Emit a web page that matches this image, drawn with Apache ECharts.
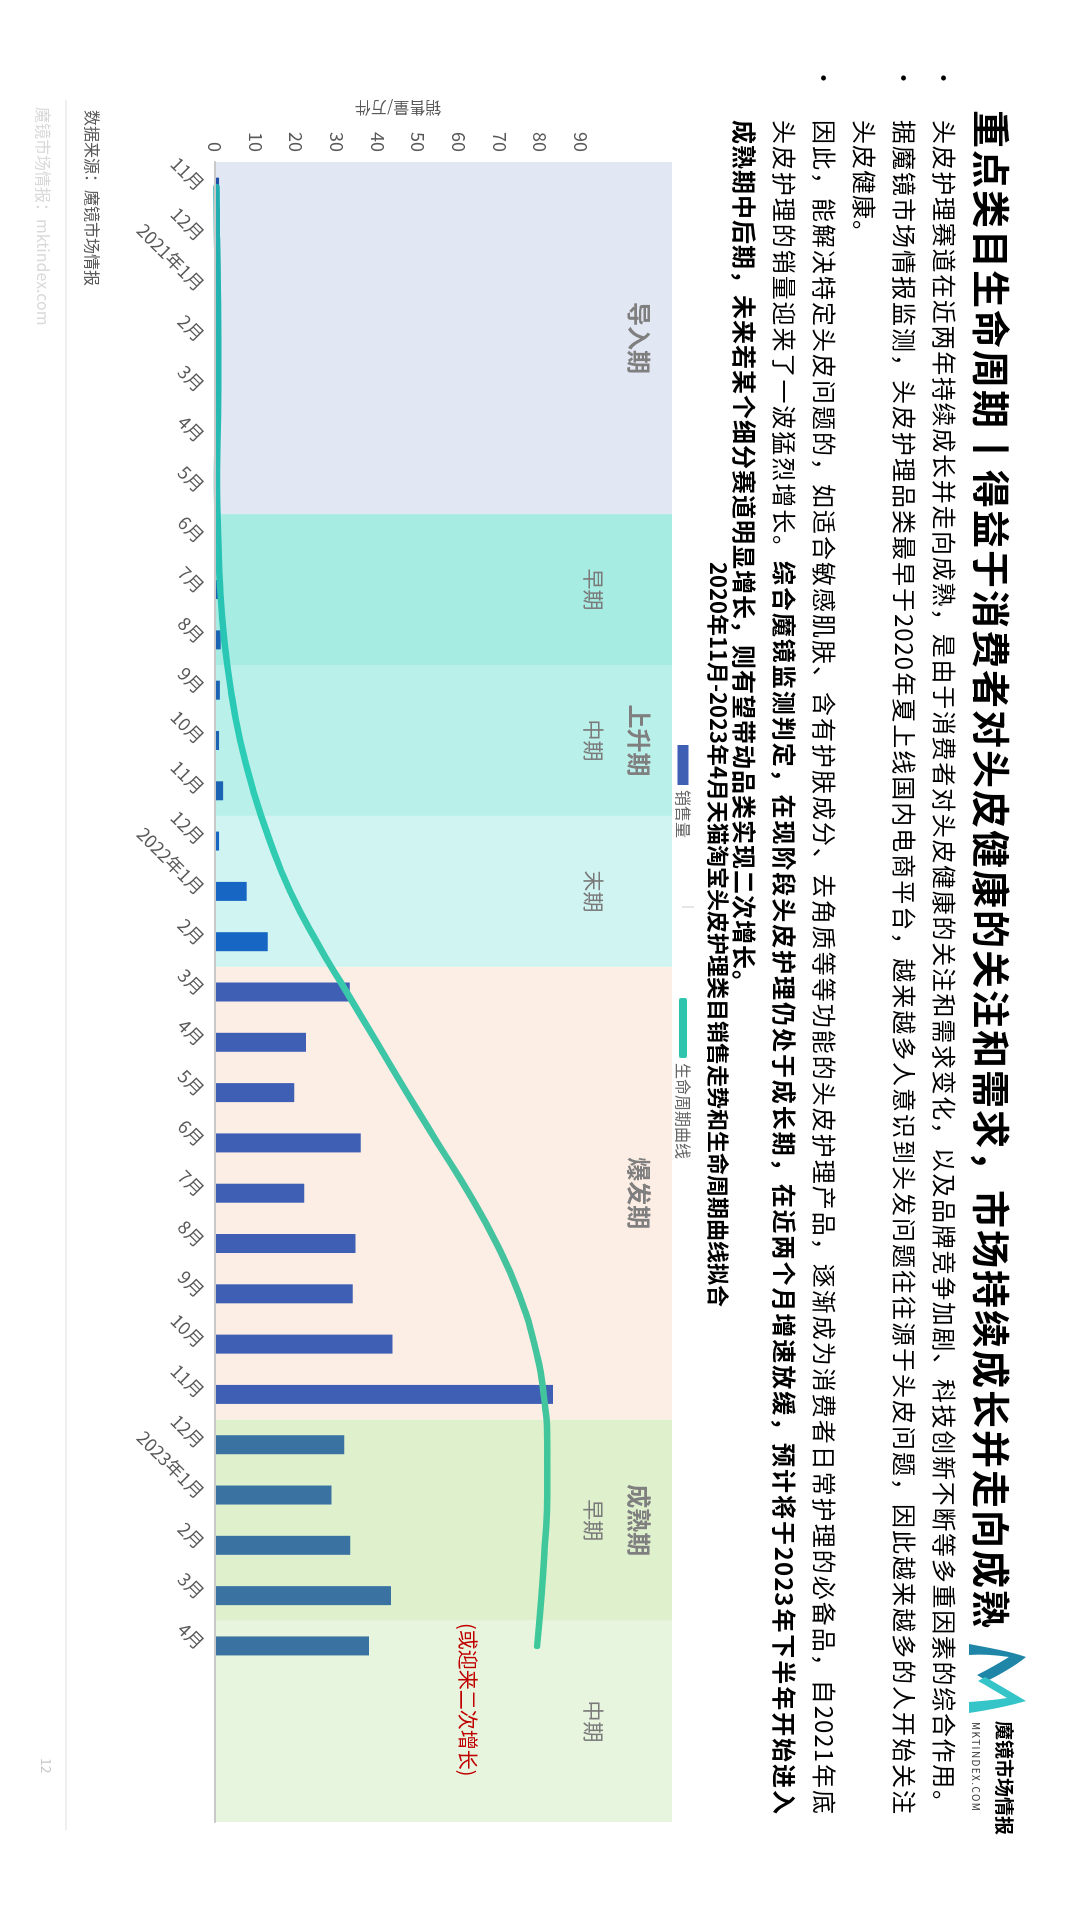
<!DOCTYPE html>
<html>
<head>
<meta charset="utf-8">
<script src="https://cdn.jsdelivr.net/npm/echarts@6/dist/echarts.min.js"></script>
<style>
html,body{margin:0;padding:0;width:1080px;height:1920px;overflow:hidden;background:#fff;}
#page{position:absolute;left:0;top:0;width:1920px;height:1080px;background:#fff;
  transform-origin:0 0;transform:translate(1080px,0) rotate(90deg);
  font-family:"Noto Sans CJK SC","Noto Sans",sans-serif;}
#chart{position:absolute;left:0;top:0;width:1920px;height:1080px;}
.txt{position:absolute;z-index:2;white-space:nowrap;color:#000;}
.title{left:110px;top:62px;font-size:38px;line-height:50px;font-weight:700;letter-spacing:2px;}
.line{left:120px;width:1695px;font-size:24px;line-height:40px;letter-spacing:1px;
  text-align:justify;text-align-last:justify;}
.last{text-align:left;text-align-last:left;}
.bul{left:66px;font-size:24px;line-height:40px;}
b{font-weight:700;}
.src{left:110px;top:976px;font-size:16px;line-height:22px;color:#595959;}
.wm{left:107px;top:1025px;font-size:16px;line-height:22px;color:#d9d9d9;}
.pg{left:1758px;top:1024px;font-size:14px;line-height:18px;color:#c8c8c8;}
.rule{position:absolute;left:100px;top:1013px;width:1730px;height:2px;background:#efefef;}
.logo{position:absolute;left:1642px;top:51px;width:73px;height:61px;}
.brand{left:1721px;top:62px;font-size:19px;line-height:26px;font-weight:700;letter-spacing:0px;}
.brand2{left:1722px;top:97px;font-size:10px;line-height:14px;letter-spacing:1.4px;color:#333;}
</style>
</head>
<body>
<div id="page">
  <div id="chart"></div>

  <div class="txt title">重点类目生命周期丨得益于消费者对头皮健康的关注和需求，市场持续成长并走向成熟</div>

  <div class="txt bul" style="top:115px">•</div>
  <div class="txt line" style="top:115px">头皮护理赛道在近两年持续成长并走向成熟，是由于消费者对头皮健康的关注和需求变化，以及品牌竞争加剧、科技创新不断等多重因素的综合作用。</div>

  <div class="txt bul" style="top:155px">•</div>
  <div class="txt line" style="top:155px">据魔镜市场情报监测，头皮护理品类最早于2020年夏上线国内电商平台，越来越多人意识到头发问题往往源于头皮问题，因此越来越多的人开始关注</div>
  <div class="txt line last" style="top:195px">头皮健康。</div>

  <div class="txt bul" style="top:235px">•</div>
  <div class="txt line" style="top:235px">因此，能解决特定头皮问题的，如适合敏感肌肤、含有护肤成分、去角质等等功能的头皮护理产品，逐渐成为消费者日常护理的必备品，自2021年底</div>
  <div class="txt line" style="top:275px">头皮护理的销量迎来了一波猛烈增长。<b>综合魔镜监测判定，在现阶段头皮护理仍处于成长期，在近两个月增速放缓，预计将于2023年下半年开始进入</b></div>
  <div class="txt line last" style="top:315px"><b>成熟期中后期，未来若某个细分赛道明显增长，则有望带动品类实现二次增长。</b></div>

  <svg class="logo" viewBox="0 0 73 61">
    <path d="M2 60 C6 40 9 20 15 3 C24 14 32 28 39 42 L33 52 C27 40 20 28 15 20 C13 34 12 47 13 60 Z" fill="#1f86a8"/>
    <path d="M35 44 C43 30 51 16 59 3 C64 20 68 40 71 60 L60 60 C59 47 58 34 56 22 C50 32 44 42 39 51 Z" fill="#35c5c9"/>
  </svg>
  <div class="txt brand">魔镜市场情报</div>
  <div class="txt brand2">MKTINDEX.COM</div>

  <div class="txt src">数据来源：魔镜市场情报</div>
  <div class="rule"></div>
  <div class="txt wm">魔镜市场情报：mktindex.com</div>
  <div class="txt pg">12</div>
</div>

<script>
// ---------- data ----------
const categories = ['11月','12月','2021年1月','2月','3月','4月','5月','6月','7月','8月','9月','10月','11月','12月',
  '2022年1月','2月','3月','4月','5月','6月','7月','8月','9月','10月','11月','12月','2023年1月','2月','3月','4月','','',''];
const sales = [1.0,0,0,0,0,0,0,0,1.0,1.4,1.2,1.0,2.0,1.0,7.8,13.0,33.2,22.4,19.5,35.9,22.0,34.6,33.9,43.7,83.2,31.8,28.7,33.3,43.3,37.9];
const lifecycle = [0.4,0.5,0.7,0.8,0.8,0.6,0.5,0.8,1.3,2.3,3.9,6.2,9.4,13.5,18.5,25.0,32.4,39.8,47.2,54.8,62.5,69.3,74.8,78.6,80.9,81.8,81.8,81.2,80.4,79.3];
const valueTicks = [0,10,20,30,40,50,60,70,80,90];
const stageNames = ['导入期','上升期','爆发期','成熟期'];
const stageStart = [0,7,16,25];
const stageEnd = [6,15,24,28];
const phaseNames = ['','早期','中期','末期','','早期','中期'];
const phaseStart = [0,7,10,13,16,25,29];
const phaseEnd = [6,9,12,15,24,28,32];
const seriesNames = ['销售量','生命周期曲线'];
const annotation = '(或迎来二次增长)';
const axisName = '销售量/万件';

// ---------- styles ----------
const FONT = '"Noto Sans CJK SC","Noto Sans",sans-serif';
const phaseColors = ['#e1e7f3','#a7ece2','#baf0ea','#d0f4f2','#fdeee5','#dff0cd','#e8f5de'];
const barColors = ['#1e4ea6','#1b64b4','#1b64b4','#1766c4','#3f5fb5','#3a73a2','#3a73a2'];

function phaseOf(i){ for(let p=0;p<phaseStart.length;p++){ if(i>=phaseStart[p] && i<=phaseEnd[p]) return p; } return 0; }

const chart = echarts.init(document.getElementById('chart'));
const option = {
  animation:false,
  textStyle:{fontFamily:FONT},
  title:{text:'2020年11月-2023年4月天猫淘宝头皮护理类目销售走势和生命周期曲线拟合',left:557,top:346,
    textStyle:{fontSize:22,fontWeight:'bold',color:'#000',fontFamily:FONT}},
  legend:[
    {data:[seriesNames[0]],left:740,top:382,icon:'rect',itemWidth:40,itemHeight:11,
      textStyle:{fontSize:16,color:'#666',lineHeight:20,fontFamily:FONT}},
    {data:[{name:seriesNames[1],itemStyle:{color:'#2ec4ad'}}],left:993,top:382,icon:'roundRect',itemWidth:60,itemHeight:8,
      textStyle:{fontSize:16,color:'#666',lineHeight:20,fontFamily:FONT}}
  ],
  grid:{left:162,right:98,top:408,bottom:215,containLabel:false},
  xAxis:[
    {type:'category',data:categories,boundaryGap:true,
      axisLine:{show:true,lineStyle:{color:'#c8c8c8',width:2}},axisTick:{show:false},
      axisLabel:{interval:0,rotate:45,fontSize:18,color:'#595959',margin:14,fontFamily:FONT},
      z:5},
    {type:'value',min:-0.5,max:categories.length-0.5,show:false}
  ],
  yAxis:{type:'value',min:0,max:112.5,interval:10,
    axisLine:{show:false},axisTick:{show:false},splitLine:{show:false},
    axisLabel:{fontSize:18,color:'#595959',margin:10,fontFamily:FONT,
      formatter:v=>valueTicks.indexOf(v)>=0?String(v):''}},
  graphic:[
    {type:'text',x:108,y:682,rotation:-Math.PI/2,z:100,
      style:{text:axisName,fontSize:16,fill:'#595959',align:'center',verticalAlign:'middle',fontFamily:FONT}},
    {type:'text',left:1623,top:602,z:100,
      style:{text:annotation,fontSize:20,fill:'#c00000',fontFamily:FONT}},
    {type:'line',z:100,shape:{x1:907,y1:386,x2:907,y2:398},style:{stroke:'#cccccc',lineWidth:1}}
  ],
  series:[
    {name:'phases',type:'line',xAxisIndex:1,data:[[0,0]],symbol:'none',lineStyle:{opacity:0},silent:true,z:1,
      markArea:{silent:true,
        data:phaseNames.map((n,p)=>[
          {xAxis:phaseStart[p]-0.5,itemStyle:{color:phaseColors[p]},
            label:{show:!!n,formatter:n,position:'insideTop',distance:68,fontSize:21,color:'#7a7a7a',fontFamily:FONT}},
          {xAxis:phaseEnd[p]+0.5}
        ])}},
    {name:'stages',type:'line',xAxisIndex:1,data:[[0,0]],symbol:'none',lineStyle:{opacity:0},silent:true,z:2,
      markArea:{silent:true,
        data:stageNames.map((n,s)=>[
          {xAxis:stageStart[s]-0.5,itemStyle:{color:'rgba(0,0,0,0)'},
            label:{show:true,formatter:n,position:'insideTop',distance:21,fontSize:24,fontWeight:'bold',color:'#7f7f7f',fontFamily:FONT}},
          {xAxis:stageEnd[s]+0.5}
        ])}},
    {name:seriesNames[0],type:'bar',barWidth:19,z:3,
      itemStyle:{color:'#3f5fb5'},
      data:sales.map((v,i)=>({value:v,itemStyle:{color:barColors[phaseOf(i)]}}))},
    {name:seriesNames[1],type:'line',smooth:true,symbol:'none',z:4,
      lineStyle:{width:6.5,cap:'round',
        color:new echarts.graphic.LinearGradient(0,0,1,0,[
          {offset:0,color:'#22adb0'},{offset:0.4,color:'#2ccdb6'},{offset:0.7,color:'#45c29e'},{offset:1,color:'#3ec99a'}])},
      itemStyle:{color:'#2ec4ad'},
      data:lifecycle}
  ]
};
chart.setOption(option);
</script>
</body>
</html>
